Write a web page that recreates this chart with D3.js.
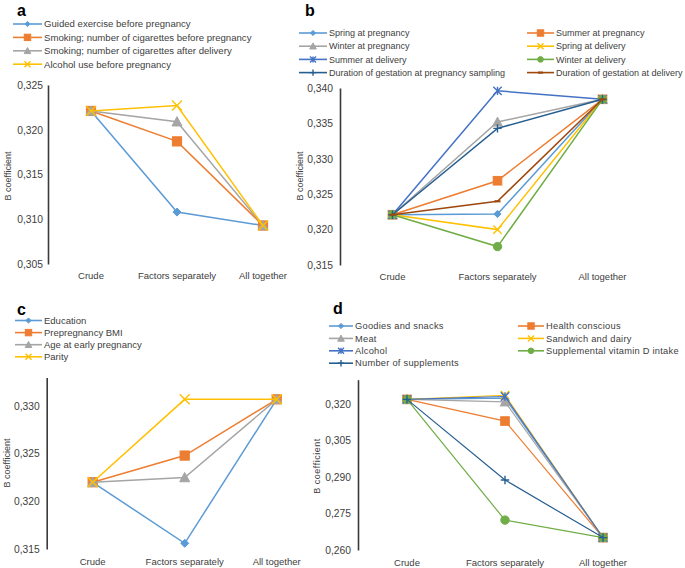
<!DOCTYPE html>
<html>
<head>
<meta charset="utf-8">
<script src="https://cdn.jsdelivr.net/npm/d3@7"></script>
<style>
  html, body { margin: 0; padding: 0; background: #fff; }
  svg { display: block; font-family: "Liberation Sans", Arial, sans-serif; }
</style>
</head>
<body>
<svg id="chart" width="685" height="568"></svg>
<script>
// ---------------- DATA ----------------
const categories = ["Crude", "Factors separately", "All together"];

const namesA = ["Guided exercise before pregnancy",
  "Smoking; number of cigarettes before pregnancy",
  "Smoking; number of cigarettes after delivery",
  "Alcohol use before pregnancy"];
const valuesA = [
  [0.3221, 0.3108, 0.3093],
  [0.3221, 0.3187, 0.3093],
  [0.3221, 0.3209, 0.3093],
  [0.3221, 0.3227, 0.3093]
];
const ticksA = [0.305, 0.310, 0.315, 0.320, 0.325];

const namesB = ["Spring at pregnancy", "Summer at pregnancy", "Winter at pregnancy",
  "Spring at delivery", "Summer at delivery", "Winter at delivery",
  "Duration of gestation at pregnancy sampling", "Duration of gestation at delivery"];
const valuesB = [
  [0.3221, 0.3222, 0.3384],
  [0.3221, 0.3269, 0.3384],
  [0.3221, 0.3352, 0.3384],
  [0.3221, 0.3200, 0.3384],
  [0.3221, 0.3396, 0.3384],
  [0.3221, 0.3176, 0.3384],
  [0.3221, 0.3343, 0.3384],
  [0.3221, 0.3240, 0.3384]
];
const ticksB = [0.315, 0.320, 0.325, 0.330, 0.335, 0.340];

const namesC = ["Education", "Prepregnancy BMI", "Age at early pregnancy", "Parity"];
const valuesC = [
  [0.3220, 0.3156, 0.3307],
  [0.3220, 0.3248, 0.3307],
  [0.3220, 0.3225, 0.3307],
  [0.3220, 0.3307, 0.3307]
];
const ticksC = [0.315, 0.320, 0.325, 0.330];

const namesD = ["Goodies and snacks", "Health conscious", "Meat", "Sandwich and dairy",
  "Alcohol", "Supplemental vitamin D intake", "Number of supplements"];
const valuesD = [
  [0.3219, 0.3224, 0.2651],
  [0.3219, 0.3130, 0.2651],
  [0.3219, 0.3209, 0.2651],
  [0.3219, 0.3236, 0.2651],
  [0.3219, 0.3231, 0.2651],
  [0.3219, 0.2723, 0.2651],
  [0.3219, 0.2888, 0.2651]
];
const ticksD = [0.260, 0.275, 0.290, 0.305, 0.320];

// ---------------- STYLE ----------------
const palette = ["#5B9BD5", "#ED7D31", "#A5A5A5", "#FFC000", "#4472C4", "#70AD47", "#255E91", "#9E480E"];
const markerTypes = ["diamond", "square", "triangle", "x", "star", "circle", "plus", "dash"];
const textColor = "#404040";
const svg = d3.select("#chart");
const fmt = v => d3.format(".3f")(v).replace(".", ",");

function drawMarker(g, type, cx, cy, s, color) {
  const m = g.append("g").attr("transform", `translate(${cx},${cy})`);
  if (type === "diamond") {
    m.append("path").attr("d", `M0,${-s}L${s},0L0,${s}L${-s},0Z`).attr("fill", color).attr("stroke", color);
  } else if (type === "square") {
    m.append("rect").attr("x", -s).attr("y", -s).attr("width", 2 * s).attr("height", 2 * s).attr("fill", color).attr("stroke", color);
  } else if (type === "triangle") {
    m.append("path").attr("d", `M0,${-s}L${s},${s * 0.85}L${-s},${s * 0.85}Z`).attr("fill", color).attr("stroke", color);
  } else if (type === "x") {
    m.append("path").attr("d", `M${-s},${-s}L${s},${s}M${-s},${s}L${s},${-s}`).attr("stroke", color).attr("stroke-width", 1.4).attr("fill", "none");
  } else if (type === "star") {
    m.append("path").attr("d", `M${-s},${-s}L${s},${s}M${-s},${s}L${s},${-s}M0,${-s}L0,${s}`).attr("stroke", color).attr("stroke-width", 1.4).attr("fill", "none");
  } else if (type === "circle") {
    m.append("circle").attr("r", s).attr("fill", color).attr("stroke", color);
  } else if (type === "plus") {
    m.append("path").attr("d", `M${-s},0L${s},0M0,${-s}L0,${s}`).attr("stroke", color).attr("stroke-width", 1.4).attr("fill", "none");
  } else if (type === "dash") {
    m.append("path").attr("d", `M${-s},0L${s},0`).attr("stroke", color).attr("stroke-width", 2.2).attr("fill", "none");
  }
}

function panel(cfg) {
  const g = svg.append("g");
  const x = d3.scalePoint().domain(categories).range(cfg.xRange).padding(0.5);
  const y = d3.scaleLinear().domain(cfg.domain).range(cfg.yRange);

  // panel letter
  g.append("text").attr("x", cfg.letter[0]).attr("y", cfg.letter[1])
    .attr("font-size", 16).attr("font-weight", "bold").attr("fill", "#000").text(cfg.letterText);

  // y axis (line only, labels)
  const axis = d3.axisLeft(y).tickValues(cfg.ticks).tickFormat(fmt).tickSize(0).tickPadding(cfg.tickPad);
  const ag = g.append("g").attr("transform", `translate(${cfg.xRange[0]},0)`).call(axis);
  ag.select(".domain").attr("stroke", "#3a3a3a").attr("stroke-width", 1.6);
  ag.selectAll("text").attr("font-size", 10.3).attr("fill", textColor)
    .attr("font-family", "'Liberation Sans', Arial, sans-serif");

  // y title
  g.append("text").attr("transform", `translate(${cfg.yTitle[0]},${cfg.yTitle[1]}) rotate(-90)`)
    .attr("text-anchor", "middle").attr("dy", "0.35em").attr("font-size", 9)
    .attr("letter-spacing", cfg.titleSpacing || 0).attr("fill", textColor).text("B coefficient");

  // x category labels
  g.selectAll(".cat").data(categories).join("text")
    .attr("x", d => x(d)).attr("y", cfg.catY).attr("text-anchor", "middle")
    .attr("font-size", 9.5).attr("fill", textColor).text(d => d);

  // series
  const line = d3.line().x((d, i) => x(categories[i])).y(d => y(d));
  cfg.values.forEach((vals, si) => {
    const color = palette[si];
    g.append("path").datum(vals).attr("d", line).attr("fill", "none")
      .attr("stroke", color).attr("stroke-width", cfg.lineW);
    vals.forEach((v, i) => drawMarker(g, markerTypes[si], x(categories[i]), y(v), cfg.mSize[markerTypes[si]], color));
  });

  // legend
  cfg.names.forEach((name, si) => {
    const pos = cfg.legendPos(si);
    const color = palette[si];
    g.append("line").attr("x1", pos.x1).attr("x2", pos.x2).attr("y1", pos.y).attr("y2", pos.y)
      .attr("stroke", color).attr("stroke-width", 1.6);
    drawMarker(g, markerTypes[si], (pos.x1 + pos.x2) / 2, pos.y, cfg.legendM[markerTypes[si]], color);
    g.append("text").attr("x", pos.x2 + 2).attr("y", pos.y).attr("dy", "0.35em")
      .attr("font-size", cfg.legendFont).attr("letter-spacing", cfg.legendSpacing || 0)
      .attr("fill", textColor).text(name);
  });
}

const bigM = { diamond: 4, square: 4.6, triangle: 5, x: 5, star: 4.5, circle: 4.2, plus: 4.5, dash: 3 };
const midM = { diamond: 3.6, square: 4.3, triangle: 4.8, x: 4.2, star: 4.2, circle: 4.2, plus: 4.2, dash: 3 };
const legM = { diamond: 2.6, square: 3.2, triangle: 3.3, x: 3, star: 3, circle: 2.8, plus: 3.2, dash: 2.5 };

panel({
  letterText: "a", letter: [17, 16],
  xRange: [48, 306], yRange: [264, 85], domain: [0.305, 0.325], ticks: ticksA, tickPad: 5,
  yTitle: [8, 176], catY: 279, values: valuesA, names: namesA, lineW: 1.5, mSize: bigM, legendM: legM,
  legendFont: 9.6, legendPos: i => ({ x1: 13, x2: 42, y: 24 + i * 13.4 })
});

panel({
  letterText: "b", letter: [305, 16],
  xRange: [340, 655], yRange: [265, 88], domain: [0.315, 0.340], ticks: ticksB, tickPad: 7,
  yTitle: [300, 176], catY: 280, values: valuesB, names: namesB, lineW: 1.5, mSize: midM, legendM: legM,
  legendFont: 9, legendPos: i => ({ x1: i % 2 ? 527 : 299, x2: i % 2 ? 554 : 327, y: 33 + Math.floor(i / 2) * 13.2 })
});

panel({
  letterText: "c", letter: [17, 315],
  xRange: [46.7, 322.7], yRange: [549, 377.4], domain: [0.315, 0.333], ticks: ticksC, tickPad: 7,
  yTitle: [7, 463], catY: 565, values: valuesC, names: namesC, lineW: 1.5, mSize: bigM, legendM: legM,
  legendFont: 9.5, legendPos: i => ({ x1: 15, x2: 42, y: 320.5 + i * 12.1 })
});

panel({
  letterText: "d", letter: [333, 314],
  xRange: [358, 652], yRange: [550, 379.7], domain: [0.26, 0.33], ticks: ticksD, tickPad: 7,
  yTitle: [317, 466], titleSpacing: 0.5, catY: 566, values: valuesD, names: namesD, lineW: 1.2, mSize: midM, legendM: legM,
  legendFont: 9.3, legendSpacing: 0.25,
  legendPos: i => ({ x1: i % 2 ? 518 : 329, x2: i % 2 ? 544 : 353, y: 326 + Math.floor(i / 2) * 12.4 })
});
</script>
</body>
</html>
